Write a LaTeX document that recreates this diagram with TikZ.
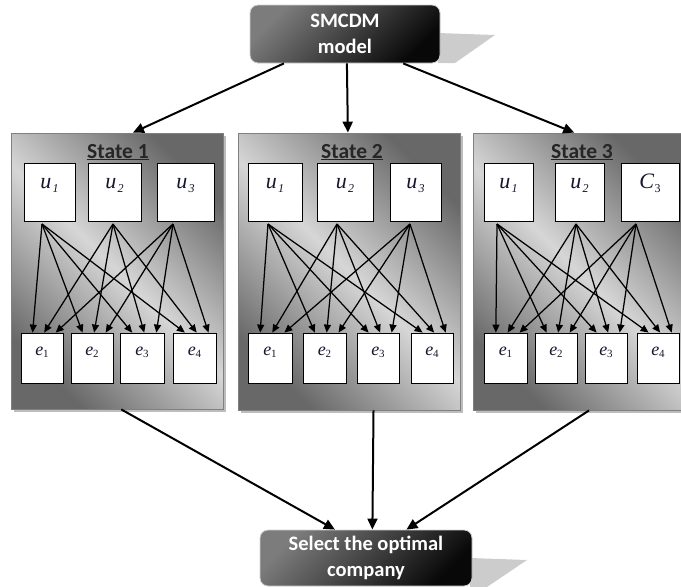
\documentclass[tikz,border=0pt]{standalone}
\usepackage{fontspec}
\setmainfont{Carlito}
\newfontfamily\lserif{Liberation Serif}
\usetikzlibrary{arrows.meta,calc,shadows}
\definecolor{shdark}{HTML}{686868}
\definecolor{shlight}{HTML}{D6D6D6}
\definecolor{stborder}{HTML}{808080}
\definecolor{shadowgray}{HTML}{BDBDBD}
\definecolor{dkA}{HTML}{7C7C7C}
\definecolor{dkB}{HTML}{080808}
\definecolor{varcol}{HTML}{15152E}
\newcommand\uvar[2]{{\color{varcol}\lserif\itshape\fontsize{22}{22}\selectfont #1\hspace{1.2pt}\raisebox{-4.5pt}{\fontsize{12}{12}\selectfont #2}}}
\newcommand\cvar[2]{{\color{varcol}\lserif\fontsize{22}{22}\selectfont\textit{#1}\hspace{0.5pt}\raisebox{-4.5pt}{\fontsize{12}{12}\selectfont #2}}}
\newcommand\evar[1]{{\color{varcol}\lserif\fontsize{18}{18}\selectfont\textit{e}\raisebox{-2.5pt}{\fontsize{11}{11}\selectfont #1}}}
\begin{document}
\begin{tikzpicture}[x=1pt,y=-1pt,
  statebox/.style={draw=stborder, line width=0.8pt, top color=shdark, bottom color=shdark, middle color=shlight, shading angle=-45, inner sep=0pt,
    drop shadow={opacity=1, fill=shadowgray, shadow xshift=2.5pt, shadow yshift=-2.5pt}},
  darkbox/.style={draw=white!82!black, line width=0.8pt, rounded corners=8pt, top color=dkA, bottom color=dkB, shading angle=45,
    text=white, font=\bfseries\fontsize{20.5}{25.5}\selectfont, align=center, inner sep=0pt},
  ubox/.style={draw=black, line width=0.8pt, fill=white, inner sep=0pt, minimum height=58pt, text height=4pt, text depth=12pt},
  ebox/.style={draw=black, line width=0.8pt, fill=white, inner sep=0pt, minimum height=50pt, text height=2pt, text depth=8pt},
  sttitle/.style={font=\bfseries\fontsize{21.5}{21.5}\selectfont, anchor=base, inner sep=0pt, text=black!85},
  bigarrow/.style={line width=2pt, -{Triangle[length=11pt,width=10pt]}},
  smallarrow/.style={line width=1.25pt, -{Triangle[length=8pt,width=7pt]}}
]
\useasboundingbox (0,0) rectangle (681,587);
\clip (0,0) rectangle (681,587);

% shadows of dark boxes
\fill[white!80!black] (438,33) -- (495,35) -- (455,63) -- (438,63) -- cycle;
\fill[white!80!black] (470,558) -- (527,560) -- (487,587) -- (470,587) -- cycle;

% dark boxes
\node[darkbox, minimum width=190pt, minimum height=58pt] (top) at (345,34) {SMCDM\\model};
\node[darkbox, minimum width=212pt, minimum height=56pt] (sel) at (366,558) {Select the optimal\\company};

% state boxes
\node[statebox, minimum width=212pt, minimum height=276pt] (st1) at (117,271) {};
\node[statebox, minimum width=222pt, minimum height=277pt] (st2) at (349,271.5) {};
\node[statebox, minimum width=211pt, minimum height=277pt] (st3) at (578.5,271.5) {};

% titles
\node[sttitle] (t1) at (118,158) {\underline{State 1}};
\node[sttitle] (t2) at (352,158) {\underline{State 2}};
\node[sttitle] (t3) at (582,158) {\underline{State 3}};

% State 1
\node[ubox, minimum width=51pt] (s1u1) at (49.5,192) {\uvar{u}{1}};
\node[ubox, minimum width=53pt] (s1u2) at (114.5,192) {\uvar{u}{2}};
\node[ubox, minimum width=57pt] (s1u3) at (185.5,192) {\uvar{u}{3}};
\node[ebox, minimum width=42pt] (s1e1) at (42,358) {\evar{1}};
\node[ebox, minimum width=42pt] (s1e2) at (92,358) {\evar{2}};
\node[ebox, minimum width=44pt] (s1e3) at (142,358) {\evar{3}};
\node[ebox, minimum width=43pt] (s1e4) at (194.5,358) {\evar{4}};
\coordinate (s1src1) at (42,224);
\coordinate (s1src2) at (113,224);
\coordinate (s1src3) at (173,224);

% State 2
\node[ubox, minimum width=54pt] (s2u1) at (275,192) {\uvar{u}{1}};
\node[ubox, minimum width=56pt] (s2u2) at (345,192) {\uvar{u}{2}};
\node[ubox, minimum width=51pt] (s2u3) at (415.5,192) {\uvar{u}{3}};
\node[ebox, minimum width=44pt] (s2e1) at (270,358) {\evar{1}};
\node[ebox, minimum width=43pt] (s2e2) at (324.5,358) {\evar{2}};
\node[ebox, minimum width=42pt] (s2e3) at (378,358) {\evar{3}};
\node[ebox, minimum width=42pt] (s2e4) at (432,358) {\evar{4}};
\coordinate (s2src1) at (268,224);
\coordinate (s2src2) at (337,224);
\coordinate (s2src3) at (410,224);

% State 3
\node[ubox, minimum width=49pt] (s3u1) at (508.5,192) {\uvar{u}{1}};
\node[ubox, minimum width=49pt] (s3u2) at (579.5,192) {\uvar{u}{2}};
\node[ubox, minimum width=58pt] (s3u3) at (650,192) {\cvar{C}{3}};
\node[ebox, minimum width=43pt] (s3e1) at (505.5,358) {\evar{1}};
\node[ebox, minimum width=42pt] (s3e2) at (556,358) {\evar{2}};
\node[ebox, minimum width=42pt] (s3e3) at (606,358) {\evar{3}};
\node[ebox, minimum width=42pt] (s3e4) at (658,358) {\evar{4}};
\coordinate (s3src1) at (497,224);
\coordinate (s3src2) at (576,224);
\coordinate (s3src3) at (636,224);

% inner arrows
\foreach \s in {1,2,3}{
  \foreach \i/\f in {1/0.28,2/0.55,3/0.82}{
    \foreach \j in {1,2,3,4}{
      \draw[smallarrow] (s\s src\i) -- ($(s\s e\j.north west)!\f!(s\s e\j.north east)$);
    }
  }
}

% main arrows
\draw[bigarrow] ($(top.south west)!0.18!(top.south east)$) -- ($(st1.north west)!0.575!(st1.north east)$);
\draw[bigarrow] ($(top.south west)!0.51!(top.south east)$) -- ($(st2.north west)!0.495!(st2.north east)$);
\draw[bigarrow] ($(top.south west)!0.805!(top.south east)$) -- ($(st3.north west)!0.48!(st3.north east)$);
\draw[bigarrow] ($(st1.south west)!0.52!(st1.south east)$) -- ($(sel.north west)!0.354!(sel.north east)$);
\draw[bigarrow] ($(st2.south west)!0.61!(st2.south east)$) -- ($(sel.north west)!0.53!(sel.north east)$);
\draw[bigarrow] ($(st3.south west)!0.55!(st3.south east)$) -- ($(sel.north west)!0.69!(sel.north east)$);
\end{tikzpicture}
\end{document}
